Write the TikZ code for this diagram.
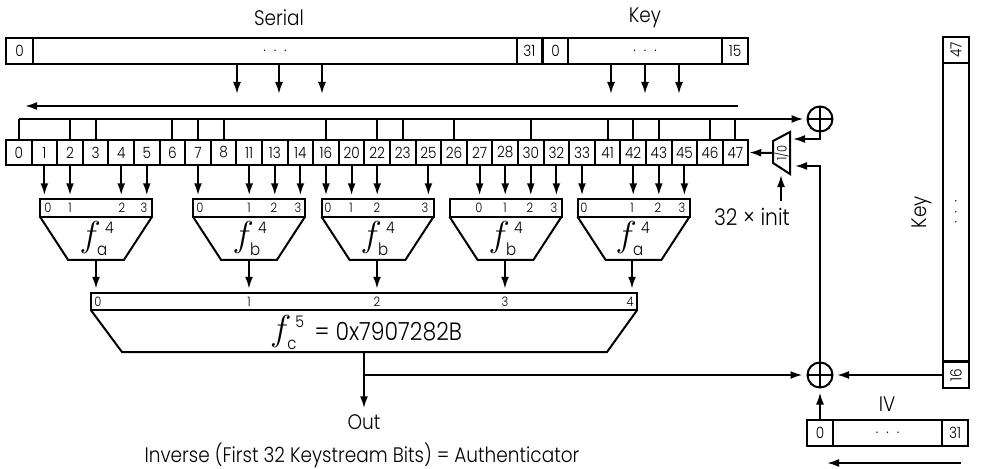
\documentclass[tikz,border=0pt]{standalone}
\usepackage{fix-cm}
\usepackage{amsmath}
\usepackage{fontspec}
\setmainfont{Poppins Light}[FakeStretch=0.88]
\usetikzlibrary{arrows.meta, positioning}
\tikzset{
	boxline/.style={line width=2pt, line join=miter},
	sigline/.style={line width=2pt},
	sigarrow/.style={line width=2pt, -{Latex[length=12pt,width=8pt]}},
	regcell/.style={boxline, draw, fill=white, minimum width=25.6pt, minimum height=25.5pt, inner sep=0pt, outer sep=0pt, font=\fontsize{15.5}{15.5}\selectfont},
	stripnode/.style={boxline, draw, fill=white, minimum height=17.5pt, inner sep=0pt, outer sep=0pt},
	smalltext/.style={font=\fontsize{13}{13}\selectfont, inner sep=0pt},
	bigtext/.style={font=\fontsize{21}{21}\selectfont, inner sep=0pt},
	xornode/.style={circle, line width=2pt, draw, fill=white, minimum size=25pt, inner sep=0pt, outer sep=0pt,
		path picture={\draw[line width=2pt] (path picture bounding box.north) -- (path picture bounding box.south)
			(path picture bounding box.west) -- (path picture bounding box.east);}
	},
	funcnode/.pic={
		\draw[boxline] (-56,0) -- (-28,43) -- (28,43) -- (56,0);
	}
}
\newcommand{\funclabel}[2]{\fontsize{36}{36}\selectfont$f_{\text{\fontsize{17}{17}\selectfont #1}}^{\,\text{\fontsize{16}{16}\selectfont #2}}$}
\newcommand{\regdots}{.\hspace{8pt}.\hspace{8pt}.}

\begin{document}
\begin{tikzpicture}[x=1pt, y=-1pt]
	\useasboundingbox (0,0) rectangle (981,468);

	\begin{scope}
		\node[bigtext] (serial) at (279,18) {Serial};
		\node[bigtext] (key) at (645,18) {Key};
		\node[regcell, minimum width=27pt] (s0) at (19.5,51) {0};
		\node[regcell, minimum width=484pt] (sdots) at (275,51) {\regdots};
		\node[regcell, minimum width=24.5pt] (s31) at (529.3,51) {31};
		\node[regcell, minimum width=25pt] (k0) at (555.5,51) {0};
		\node[regcell, minimum width=154pt] (kdots) at (645,51) {\regdots};
		\node[regcell, minimum width=26pt] (k15) at (735,51) {15};
	\end{scope}

	\begin{scope}
		\coordinate (sa) at (237,64);
		\coordinate (sb) at (279,64);
		\coordinate (sc) at (322,64);
		\coordinate (ka) at (611,64);
		\coordinate (kb) at (645,64);
		\coordinate (kc) at (679,64);
		\coordinate (shift) at (0,94);
		\coordinate (lineR) at (738,106);
		\coordinate (lineL) at (25,106);

		\draw[sigarrow] (sa) -- (sa |- shift);
		\draw[sigarrow] (sb) -- (sb |- shift);
		\draw[sigarrow] (sc) -- (sc |- shift);
		\draw[sigarrow] (ka) -- (ka |- shift);
		\draw[sigarrow] (kb) -- (kb |- shift);
		\draw[sigarrow] (kc) -- (kc |- shift);
		\draw[sigarrow] (lineR) -- (lineL);
	\end{scope}

	\begin{scope}
		\node[regcell] (r0) at (18.8,152.5) {0};
		\node[regcell] (r1) at (44.4,152.5) {1};
		\node[regcell] (r2) at (70,152.5) {2};
		\node[regcell] (r3) at (95.6,152.5) {3};
		\node[regcell] (r4) at (121.2,152.5) {4};
		\node[regcell] (r5) at (146.8,152.5) {5};
		\node[regcell] (r6) at (172.4,152.5) {6};
		\node[regcell] (r7) at (198,152.5) {7};
		\node[regcell] (r8) at (223.6,152.5) {8};
		\node[regcell] (r9) at (249.2,152.5) {11};
		\node[regcell] (r10) at (274.8,152.5) {13};
		\node[regcell] (r11) at (300.4,152.5) {14};
		\node[regcell] (r12) at (326,152.5) {16};
		\node[regcell] (r13) at (351.6,152.5) {20};
		\node[regcell] (r14) at (377.2,152.5) {22};
		\node[regcell] (r15) at (402.8,152.5) {23};
		\node[regcell] (r16) at (428.4,152.5) {25};
		\node[regcell] (r17) at (454,152.5) {26};
		\node[regcell] (r18) at (479.6,152.5) {27};
		\node[regcell] (r19) at (505.2,152.5) {28};
		\node[regcell] (r20) at (530.8,152.5) {30};
		\node[regcell] (r21) at (556.4,152.5) {32};
		\node[regcell] (r22) at (582,152.5) {33};
		\node[regcell] (r23) at (607.6,152.5) {41};
		\node[regcell] (r24) at (633.2,152.5) {42};
		\node[regcell] (r25) at (658.8,152.5) {43};
		\node[regcell] (r26) at (684.4,152.5) {45};
		\node[regcell] (r27) at (710,152.5) {46};
		\node[regcell] (r28) at (735.4,152.5) {47};
	\end{scope}

	\begin{scope}
		\node[xornode] (xtop) at (820,119) {};
		\node[xornode] (xbot) at (820,375) {};

		\draw[sigarrow, shorten >=4pt] (r0.north |- xtop) -- (xtop.west);
		\draw[sigline] (r0.north) -- (r0.north |- xtop);
		\draw[sigline] (r2.north) -- (r2.north |- xtop);
		\draw[sigline] (r3.north) -- (r3.north |- xtop);
		\draw[sigline] (r6.north) -- (r6.north |- xtop);
		\draw[sigline] (r7.north) -- (r7.north |- xtop);
		\draw[sigline] (r8.north) -- (r8.north |- xtop);
		\draw[sigline] (r12.north) -- (r12.north |- xtop);
		\draw[sigline] (r14.north) -- (r14.north |- xtop);
		\draw[sigline] (r15.north) -- (r15.north |- xtop);
		\draw[sigline] (r17.north) -- (r17.north |- xtop);
		\draw[sigline] (r20.north) -- (r20.north |- xtop);
		\draw[sigline] (r23.north) -- (r23.north |- xtop);
		\draw[sigline] (r24.north) -- (r24.north |- xtop);
		\draw[sigline] (r25.north) -- (r25.north |- xtop);
		\draw[sigline] (r27.north) -- (r27.north |- xtop);
		\draw[sigline] (r28.north) -- (r28.north |- xtop);
	\end{scope}

	\begin{scope}
		\node[stripnode, minimum width=112pt] (fa) at (96,208) {};
		\node[stripnode, minimum width=112pt] (fb) at (249,208) {};
		\node[stripnode, minimum width=112pt] (fc) at (377.5,208) {};
		\node[stripnode, minimum width=112pt] (fd) at (505.5,208) {};
		\node[stripnode, minimum width=112pt] (fe) at (633.5,208) {};

		\pic at (fa.south) {funcnode};
		\pic at (fb.south) {funcnode};
		\pic at (fc.south) {funcnode};
		\pic at (fd.south) {funcnode};
		\pic at (fe.south) {funcnode};

		\node[smalltext] (fa0) at (48,208) {0};
		\node[smalltext] (fa1) at (70,208) {1};
		\node[smalltext] (fa2) at (122,208) {2};
		\node[smalltext] (fa3) at (144,208) {3};
		\node[smalltext] (fb0) at (200,208) {0};
		\node[smalltext] (fb1) at (249,208) {1};
		\node[smalltext] (fb2) at (274,208) {2};
		\node[smalltext] (fb3) at (298,208) {3};
		\node[smalltext] (fc0) at (328,208) {0};
		\node[smalltext] (fc1) at (351,208) {1};
		\node[smalltext] (fc2) at (377,208) {2};
		\node[smalltext] (fc3) at (425,208) {3};
		\node[smalltext] (fd0) at (479,208) {0};
		\node[smalltext] (fd1) at (505,208) {1};
		\node[smalltext] (fd2) at (530,208) {2};
		\node[smalltext] (fd3) at (554,208) {3};
		\node[smalltext] (fe0) at (584,208) {0};
		\node[smalltext] (fe1) at (632,208) {1};
		\node[smalltext] (fe2) at (658,208) {2};
		\node[smalltext] (fe3) at (682,208) {3};

		\node[inner sep=0pt] (la) at (97,239) {\funclabel{a}{4}};
		\node[inner sep=0pt] (lb) at (250,239) {\funclabel{b}{4}};
		\node[inner sep=0pt] (lc) at (378,239) {\funclabel{b}{4}};
		\node[inner sep=0pt] (ld) at (506,239) {\funclabel{b}{4}};
		\node[inner sep=0pt] (le) at (633,239) {\funclabel{a}{4}};
	\end{scope}

	\begin{scope}[sigarrow, shorten >=4pt]
		\draw (r1.south) -- (r1.south |- fa.north);
		\draw (r2.south) -- (r2.south |- fa.north);
		\draw (r4.south) -- (r4.south |- fa.north);
		\draw (r5.south) -- (r5.south |- fa.north);
		\draw (r7.south) -- (r7.south |- fb.north);
		\draw (r9.south) -- (r9.south |- fb.north);
		\draw (r10.south) -- (r10.south |- fb.north);
		\draw (r11.south) -- (r11.south |- fb.north);
		\draw (r12.south) -- (r12.south |- fc.north);
		\draw (r13.south) -- (r13.south |- fc.north);
		\draw (r14.south) -- (r14.south |- fc.north);
		\draw (r16.south) -- (r16.south |- fc.north);
		\draw (r18.south) -- (r18.south |- fd.north);
		\draw (r19.south) -- (r19.south |- fd.north);
		\draw (r20.south) -- (r20.south |- fd.north);
		\draw (r21.south) -- (r21.south |- fd.north);
		\draw (r22.south) -- (r22.south |- fe.north);
		\draw (r24.south) -- (r24.south |- fe.north);
		\draw (r25.south) -- (r25.south |- fe.north);
		\draw (r26.south) -- (r26.south |- fe.north);
	\end{scope}

	\begin{scope}
		\node[stripnode, minimum width=546pt] (fmain) at (364,301.5) {};
		\draw[boxline] (fmain.south west) -- (122,352) -- (607,352) -- (fmain.south east);

		\node[smalltext] (m0) at (98,301.5) {0};
		\node[smalltext] (m1) at (249,301.5) {1};
		\node[smalltext] (m2) at (377,301.5) {2};
		\node[smalltext] (m3) at (505,301.5) {3};
		\node[smalltext] (m4) at (630,301.5) {4};

		\node[inner sep=0pt] (lmain) at (366,333) {\funclabel{c}{5}\hspace{10pt}\fontsize{25}{25}\selectfont = 0x7907282B};

		\coordinate (oa) at (96,260);
		\coordinate (ob) at (249,260);
		\coordinate (oc) at (377,260);
		\coordinate (od) at (505,260);
		\coordinate (oe) at (632,260);

		\draw[sigarrow, shorten >=4pt] (oa) -- (oa |- fmain.north);
		\draw[sigarrow, shorten >=4pt] (ob) -- (ob |- fmain.north);
		\draw[sigarrow, shorten >=4pt] (oc) -- (oc |- fmain.north);
		\draw[sigarrow, shorten >=4pt] (od) -- (od |- fmain.north);
		\draw[sigarrow, shorten >=4pt] (oe) -- (oe |- fmain.north);
	\end{scope}

	\begin{scope}
		\node[bigtext] (out) at (364,422) {Out};
		\node[bigtext] (auth) at (362,455) {Inverse (First 32 Keystream Bits) = Authenticator};

		\coordinate (fout) at (364,352);

		\draw[sigarrow, shorten >=6pt] (fout) -- (out.north);
		\draw[sigarrow, shorten >=5pt] (fout |- xbot) -- (xbot.west);
	\end{scope}

	\begin{scope}
		\node[regcell, minimum width=26pt, minimum height=26pt, rotate=90] (k47) at (956,50) {47};
		\node[regcell, minimum width=26pt, minimum height=298pt] (kmid) at (956,212) {\rotatebox{90}{\regdots}};
		\node[regcell, minimum width=26pt, minimum height=26pt, rotate=90] (k16) at (956,375) {16};
		\node[bigtext, rotate=90] (keyv) at (922,212) {Key};

		\draw[sigarrow, shorten >=4.5pt] (k16.north) -- (xbot.east);
	\end{scope}

	\begin{scope}
		\node[regcell, minimum width=26pt] (iv0) at (820,433) {0};
		\node[regcell, minimum width=109pt] (ivdots) at (887.5,433) {\regdots};
		\node[regcell, minimum width=26pt] (iv31) at (955,433) {31};
		\node[bigtext] (iv) at (887,404) {IV};

		\coordinate (ivR) at (961,463);
		\coordinate (ivL) at (827,463);

		\draw[sigarrow, shorten >=5pt] (iv0.north) -- (xbot.south);
		\draw[sigarrow] (ivR) -- (ivL);
	\end{scope}

	\begin{scope}
		\coordinate (muxa) at (790,139);
		\coordinate (muxb) at (790,166);
		\coordinate (muxout) at (773,153);
		\coordinate (muxsel) at (781,175);

		\draw[boxline, fill=white] (773,141) -- (790,132) -- (790,174) -- (773,163) -- cycle;
		\node[smalltext, rotate=90] (mux) at (781.5,153) {1/0};
		\node[font=\fontsize{23}{23}\selectfont, inner sep=0pt] (init) at (752,217) {32 × init};

		\draw[sigarrow] (xtop.south) |- ([xshift=3pt]muxa);
		\draw[sigarrow] (xbot.north) |- ([xshift=5pt]muxb);
		\draw[sigarrow, shorten >=1pt] (muxout) -- (r28.east);
		\draw[sigarrow] (muxsel |- init.north) ++(0,-7) -- (muxsel);
	\end{scope}

\end{tikzpicture}
\end{document}
